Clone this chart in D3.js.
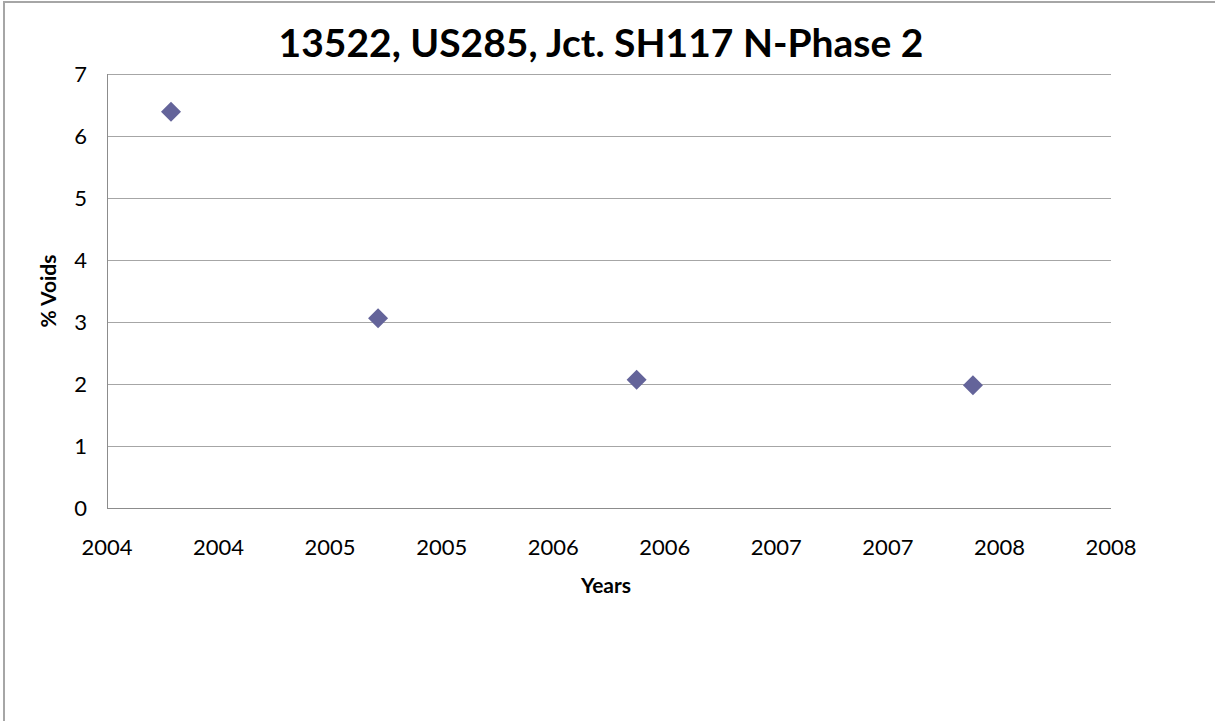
<!DOCTYPE html>
<html>
<head>
<meta charset="utf-8">
<script src="https://cdn.jsdelivr.net/npm/d3@7"></script>
<style>
	body { margin: 0; background: #ffffff; }
	svg { display: block; font-family: Lato, "Open Sans", sans-serif; }
</style>
</head>
<body>
<svg width="1215" height="721"></svg>
<script>
// data (x in decimal years)
const years = [2004.255, 2005.08, 2006.11, 2007.45]
const voids = [6.39, 3.06, 2.07, 1.98]

const xDomain = [2004, 2008]
const xTickLabels = ["2004", "2004", "2005", "2005", "2006", "2006", "2007", "2007", "2008", "2008"]
const yTicks = [0, 1, 2, 3, 4, 5, 6, 7]

const svg = d3.select("svg"),
	width = +svg.attr("width"),
	height = +svg.attr("height");

const plot = { left: 107, right: 1111, top: 74, bottom: 508 }

const x = d3.scaleLinear()
	.domain(xDomain)
	.range([plot.left, plot.right])

const y = d3.scaleLinear()
	.domain([0, 7])
	.range([plot.bottom, plot.top])

// outer chart frame
svg.append("rect")
	.attr("x", 4)
	.attr("y", 2)
	.attr("width", width + 20)
	.attr("height", height + 20)
	.attr("fill", "#ffffff")
	.attr("stroke", "#a6a6a6")
	.attr("stroke-width", 2)

// title
svg.append("text")
	.attr("x", 601)
	.attr("y", 57)
	.attr("text-anchor", "middle")
	.attr("font-size", 39)
	.attr("font-weight", "bold")
	.attr("fill", "#000000")
	.text("13522, US285, Jct. SH117 N-Phase 2")

// horizontal gridlines
svg.append("g")
	.selectAll("line")
	.data(yTicks)
	.join("line")
	.attr("x1", plot.left)
	.attr("x2", plot.right)
	.attr("y1", d => Math.round(y(d)) + 0.5)
	.attr("y2", d => Math.round(y(d)) + 0.5)
	.attr("stroke", d => d === 0 ? "#8c8c8c" : "#a6a6a6")
	.attr("stroke-width", 1)

// y axis line
svg.append("line")
	.attr("x1", plot.left + 0.5)
	.attr("x2", plot.left + 0.5)
	.attr("y1", plot.top)
	.attr("y2", plot.bottom)
	.attr("stroke", "#8c8c8c")

// y tick labels
svg.append("g")
	.selectAll("text")
	.data(yTicks)
	.join("text")
	.attr("x", plot.left - 20)
	.attr("y", d => y(d))
	.attr("dy", "0.36em")
	.attr("text-anchor", "end")
	.attr("font-size", 22)
	.attr("fill", "#000000")
	.text(d => d)

// x tick labels - evenly spaced, rounded year labels like the original
const xTicks = d3.range(xTickLabels.length).map(i => xDomain[0] + i * (xDomain[1] - xDomain[0]) / (xTickLabels.length - 1))

svg.append("g")
	.selectAll("text")
	.data(xTicks)
	.join("text")
	.attr("x", d => x(d))
	.attr("y", 555)
	.attr("text-anchor", "middle")
	.attr("font-size", 22)
	.attr("fill", "#000000")
	.text((d, i) => xTickLabels[i])

// axis titles
svg.append("text")
	.attr("x", 606)
	.attr("y", 593)
	.attr("text-anchor", "middle")
	.attr("font-size", 21)
	.attr("font-weight", "bold")
	.text("Years")

svg.append("text")
	.attr("transform", "translate(56," + ((plot.top + plot.bottom) / 2) + ") rotate(-90)")
	.attr("text-anchor", "middle")
	.attr("font-size", 21)
	.attr("font-weight", "bold")
	.text("% Voids")

// diamond markers
svg.append("g")
	.selectAll("path")
	.data(years.map((d, i) => [d, voids[i]]))
	.join("path")
	.attr("d", d3.symbol(d3.symbolSquare, 200))
	.attr("transform", d => "translate(" + x(d[0]) + "," + y(d[1]) + ") rotate(45)")
	.attr("fill", "#64649a")
</script>
</body>
</html>
